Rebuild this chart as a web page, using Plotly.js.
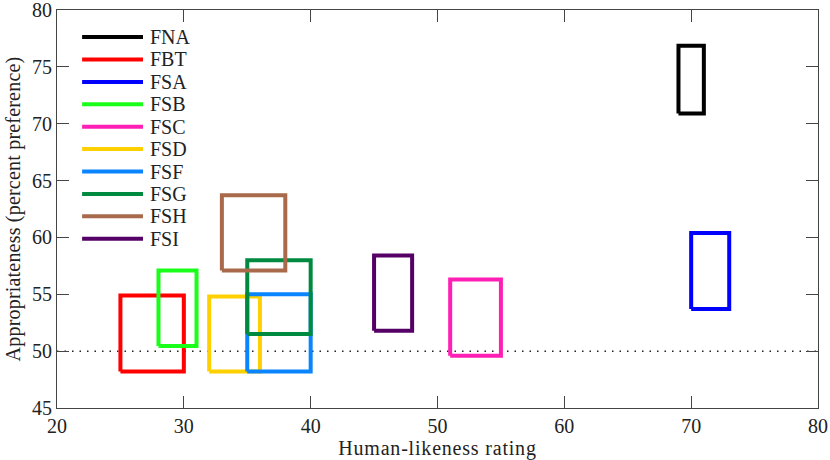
<!DOCTYPE html>
<html>
<head>
<meta charset="utf-8">
<script src="https://cdn.plot.ly/plotly-3.0.1.min.js"></script>
<style>
html,body{margin:0;padding:0;background:#fff;}
#chart{width:830px;height:460px;}
.g-xtitle text{letter-spacing:0.8px;}
.g-ytitle text{letter-spacing:0.2px;}
</style>
</head>
<body>
<div id="chart"></div>
<script>
// Data: each condition is a rectangle spanning [xLow, xHigh] x [yLow, yHigh]
const names  = ["FNA","FBT","FSA","FSB","FSC","FSD","FSF","FSG","FSH","FSI"];
const xLow   = [69, 25, 70, 28, 51, 32, 35, 35, 33, 45];
const xHigh  = [71, 30, 73, 31, 55, 36, 40, 40, 38, 48];
const yLow   = [70.9, 48.2, 53.7, 50.45, 49.6, 48.2, 48.2, 51.5, 57.1, 51.8];
const yHigh  = [76.85, 54.9, 60.4, 57.1, 56.3, 54.8, 55.0, 58.0, 63.7, 58.4];
const colors = ["#000000","#ff0000","#0000ff","#1aff1a","#ff1fb4","#ffd000","#0a85ff","#008a40","#a86a4a","#550066"];
const chanceLevel = 50;
const xTicks = [20,30,40,50,60,70,80];
const yTicks = [45,50,55,60,65,70,75,80];

const FONT = "Liberation Serif, Times New Roman, serif";
const TXT = "#222";

const traces = names.map((n, i) => ({
  type: "scatter",
  mode: "lines",
  name: n,
  x: [xLow[i], xHigh[i], xHigh[i], xLow[i], xLow[i]],
  y: [yLow[i], yLow[i], yHigh[i], yHigh[i], yLow[i]],
  line: {color: colors[i], width: 4},
  showlegend: false,
  hoverinfo: "name"
}));

const shapes = [{
  type: "line", xref: "paper", yref: "y",
  x0: 0, x1: 1, y0: chanceLevel, y1: chanceLevel,
  line: {color: "#222", width: 1.5, dash: "1.5px,6px"},
  layer: "below"
}];
const annotations = [];
// custom legend (top-left)
const legX0 = 0.033, legX1 = 0.113, legTextX = 0.120, legY0 = 0.932, legDy = 0.0563;
names.forEach((n, i) => {
  const yy = legY0 - i * legDy;
  shapes.push({type: "line", xref: "paper", yref: "paper",
    x0: legX0, x1: legX1, y0: yy, y1: yy,
    line: {color: colors[i], width: 4}});
  annotations.push({xref: "paper", yref: "paper", x: legTextX, y: yy,
    text: n, showarrow: false, xanchor: "left", yanchor: "middle",
    font: {family: FONT, size: 20, color: TXT}});
});

const axisCommon = {
  showline: true, linecolor: "#444", linewidth: 1, mirror: "ticks",
  ticks: "inside", ticklen: 12, tickcolor: "#444", tickwidth: 1,
  showgrid: false, zeroline: false,
  ticklabeloverflow: "allow",
  tickfont: {family: FONT, size: 20, color: TXT}
};

const layout = {
  width: 830, height: 460,
  margin: {l: 57, r: 12, t: 10, b: 52},
  paper_bgcolor: "#fff", plot_bgcolor: "#fff",
  showlegend: false,
  xaxis: Object.assign({}, axisCommon, {
    range: [20, 80], tickvals: xTicks, ticktext: xTicks.map(String),
    title: {text: "Human-likeness rating", font: {family: FONT, size: 20, color: TXT}, standoff: 2}
  }),
  yaxis: Object.assign({}, axisCommon, {
    range: [45, 80], tickvals: yTicks, ticktext: yTicks.map(String),
    title: {text: "Appropriateness (percent preference)", font: {family: FONT, size: 20, color: TXT}, standoff: 6}
  }),
  shapes: shapes,
  annotations: annotations
};

Plotly.newPlot("chart", traces, layout, {displayModeBar: false, staticPlot: true});
</script>
</body>
</html>
